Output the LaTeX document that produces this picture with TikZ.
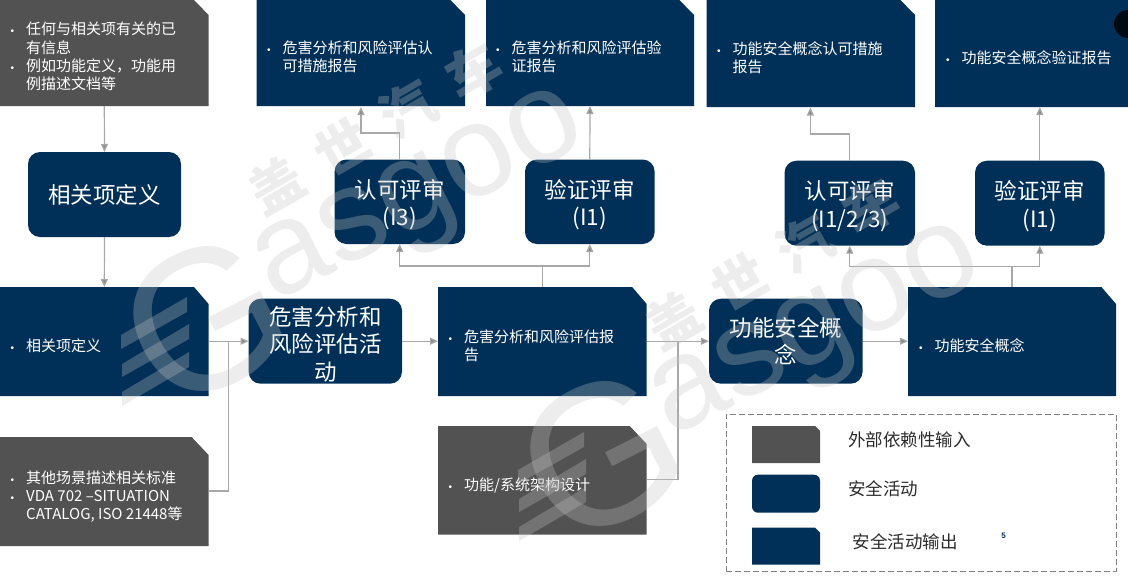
\documentclass[tikz,border=0pt]{standalone}
\usepackage{fontspec}
\setmainfont{Noto Sans CJK SC}
\newfontfamily\bulfont{Liberation Sans}
\newfontfamily\wmfont{Liberation Sans}
\usetikzlibrary{arrows.meta}
\definecolor{navy}{HTML}{003057}
\definecolor{slate}{HTML}{525252}
\definecolor{wire}{HTML}{A8A8A8}
\definecolor{tipc}{HTML}{8C8C8C}
\definecolor{legendtxt}{HTML}{2B2B2B}
\newcommand{\bul}{\makebox[0pt][r]{\bulfont\fontsize{10}{10}\selectfont •\hspace{12pt}}}
\newcommand{\low}{\rule{0pt}{25.3pt}}
% \cutbox{name}{cx}{cy}{w}{h}{colour}{cut x}{cut y}: a named node, filled with its top right corner cut off
\newcommand{\cutbox}[8]{%
  \node[boxframe,minimum width=#4pt,minimum height=#5pt] (#1) at (#2,#3) {};
  \fill[#6] (#1.north west) -- ([xshift=-#7pt]#1.north east) -- ([yshift=-#8pt]#1.north east)
    -- (#1.south east) -- (#1.south west) -- cycle;}
\tikzset{
  boxframe/.style={shape=rectangle,inner sep=0pt,outer sep=0pt,draw=none},
  activity/.style={shape=rectangle,rounded corners=12pt,fill=navy,text=white,align=center,
    inner sep=0pt,outer sep=0pt,font=\fontsize{22.5}{27.5}\selectfont},
  bullets/.style={anchor=west,align=left,text=white,inner sep=0pt,
    font=\fontsize{15}{18.2}\selectfont},
  legendlabel/.style={anchor=west,inner sep=0pt,text=legendtxt,font=\fontsize{17.5}{20}\selectfont},
  conn/.style={draw=wire,line width=1.2pt},
  flow/.style={conn,-{Triangle[length=8pt,width=7pt,fill=tipc]}},
  wmark/.style={fill=black!24,fill opacity=.3,draw=none},
  wmtext/.style={text=black!24,text opacity=.3,inner sep=0pt},
}
\begin{document}
\begin{tikzpicture}[x=1pt,y=-1pt]
\useasboundingbox (0,0) rectangle (1128,584);
\clip (0,0) rectangle (1128,584);
% top-row outputs and inputs
\cutbox{a}{104.3}{53}{208.6}{106}{slate}{14.6}{15}
\cutbox{o1}{360.75}{53}{208.5}{106}{navy}{14.6}{15}
\cutbox{o2}{590}{53}{208}{106}{navy}{14.6}{15}
\cutbox{o3}{810.75}{53.5}{208.5}{107}{navy}{14.6}{15}
\cutbox{o4}{1039}{53.5}{208}{107}{navy}{14.6}{15}
% activities
\node[activity,minimum width=153pt,minimum height=85pt] (itemact) at (104.5,194.5) {相关项定义};
\node[activity,minimum width=130.5pt,minimum height=84.5pt] (r1) at (399.75,201.75) {\low 认可评审\\(I3)};
\node[activity,minimum width=129.6pt,minimum height=84.5pt] (r2) at (589.8,201.75) {\low 验证评审\\(I1)};
\node[activity,minimum width=130.5pt,minimum height=85pt] (r3) at (849.75,203.2) {\low 认可评审\\(I1/2/3)};
\node[activity,minimum width=129.6pt,minimum height=85pt] (r4) at (1039.8,203.2) {\low 验证评审\\(I1)};
% middle row
\cutbox{item}{104.3}{341.5}{208.6}{109}{navy}{14.6}{17}
\node[activity,minimum width=153.4pt,minimum height=85pt] (hara) at (325.3,341.2) {\low 危害分析和\\风险评估活\\动};
\cutbox{haraout}{542.35}{341.5}{208.7}{109}{navy}{14.6}{17}
\node[activity,minimum width=153.6pt,minimum height=85pt] (fsc) at (785.8,341.2) {功能安全概\\念};
\cutbox{fscout}{1012}{341.5}{208}{109}{navy}{14.6}{17}
% lower inputs
\cutbox{b}{104.3}{491.5}{208.6}{109}{slate}{17}{18}
\cutbox{c}{542.35}{480.35}{208.7}{108.7}{slate}{17}{18}
% connector waypoints
\coordinate (o1in) at (361,107);
\coordinate (o1bend) at (361,133);
\coordinate (o3in) at (810.4,107.5);
\coordinate (o3bend) at (810.4,134);
\coordinate (hsplit) at (542.35,266);
\coordinate (fsplit) at (1012,266.5);
\coordinate (bout) at (208.6,491);
\coordinate (bmerge) at (228.8,341.5);
\coordinate (cout) at (646.7,479.7);
\coordinate (cmerge) at (678,341.5);
% connectors
\draw[flow] (a.south) -- (itemact.north);
\draw[flow] (itemact.south) -- (item.north);
\draw[flow] (r1.north) -- (r1.north |- o1bend) -- (o1bend) -- (o1in);
\draw[flow] (r2.north) -- (o2.south);
\draw[flow] (r3.north) -- (r3.north |- o3bend) -- (o3bend) -- (o3in);
\draw[flow] (r4.north) -- (r4.north |- o4.south);
\draw[conn] (haraout.north) -- (hsplit);
\draw[flow] (hsplit) -| (r1.south);
\draw[flow] (hsplit) -| (r2.south);
\draw[conn] (fscout.north) -- (fsplit);
\draw[flow] (fsplit) -| (r3.south);
\draw[flow] (fsplit) -| (r4.south);
\draw[flow] (item.east |- hara.west) -- (hara.west);
\draw[conn] (bout) -| (bmerge);
\draw[flow] (hara.east) -- (hara.east -| haraout.west);
\draw[flow] (haraout.east |- fsc.west) -- (fsc.west);
\draw[conn] (cout) -| (cmerge);
\draw[flow] (fsc.east) -- (fsc.east -| fscout.west);
% texts
\node[bullets] (ta) at (26,56.5) {\bul 任何与相关项有关的已\\有信息\\\bul 例如功能定义，功能用\\例描述文档等};
\node[bullets] (to1) at (282.4,57) {\bul 危害分析和风险评估认\\可措施报告};
\node[bullets] (to2) at (511.5,57) {\bul 危害分析和风险评估验\\证报告};
\node[bullets] (to3) at (732.3,57.5) {\bul 功能安全概念认可措施\\报告};
\node[bullets] (to4) at (961.5,57.3) {\bul 功能安全概念验证报告};
\node[bullets] (titem) at (26,346) {\bul 相关项定义};
\node[bullets] (tb) at (26,496.5) {\bul 其他场景描述相关标准\\\bul VDA 702 –SITUATION\\CATALOG, ISO 21448等};
\node[bullets] (th) at (464,346) {\bul 危害分析和风险评估报\\告};
\node[bullets] (tc) at (464,485.3) {\bul 功能/系统架构设计};
\node[bullets] (tf) at (934.5,346) {\bul 功能安全概念};
% legend
\node[draw=black!50,dash pattern=on 6pt off 3pt,line width=.9pt,inner sep=0pt,minimum width=390pt,minimum height=157pt] (legend) at (921,492.5) {};
\cutbox{k1}{786}{444.5}{68}{37}{slate}{5}{5}
\node[activity,rounded corners=6pt,minimum width=68pt,minimum height=38pt] (k2) at (786,493.7) {};
\cutbox{k3}{786}{546.2}{68}{37}{navy}{5}{5}
\node[legendlabel] (l1) at (848,440) {外部依赖性输入};
\node[legendlabel] (l2) at (848,489) {安全活动};
\node[legendlabel] (l3) at (852.5,542) {安全活动输出};
\node[inner sep=0pt,text=navy,font=\bulfont\bfseries\fontsize{8}{8}\selectfont] (pg) at (1003.6,536) {5};
% corner badge
\fill[black!78!navy] (1128,24) circle (14pt);
% watermark
\newcommand{\watermark}[2]{%
\begin{scope}[shift={(#1,#2)}]
 \node[wmtext,rotate=30,font=\bfseries\fontsize{54}{54}\selectfont] (wmcn#1) at (375,128) {盖\hspace{22pt}世\hspace{22pt}汽\hspace{22pt}车};
 \node[wmtext,rotate=27,font=\wmfont\fontsize{200}{200}\selectfont] (wmg#1) at (205,320) {G};
 \node[wmtext,rotate=27,font=\wmfont\fontsize{130}{130}\selectfont] (wmen#1) at (423,203) {asgoo};
 \fill[wmark] (121,335) -- (187,297) -- (187,312) -- (121,349) -- cycle;
 \fill[wmark] (122,364) -- (189,324) -- (189,339) -- (122,377) -- cycle;
 \fill[wmark] (122,392) -- (189,352) -- (189,367) -- (122,406) -- cycle;
\end{scope}}
\watermark{0}{0}
\watermark{397}{135}
\end{tikzpicture}
\end{document}
